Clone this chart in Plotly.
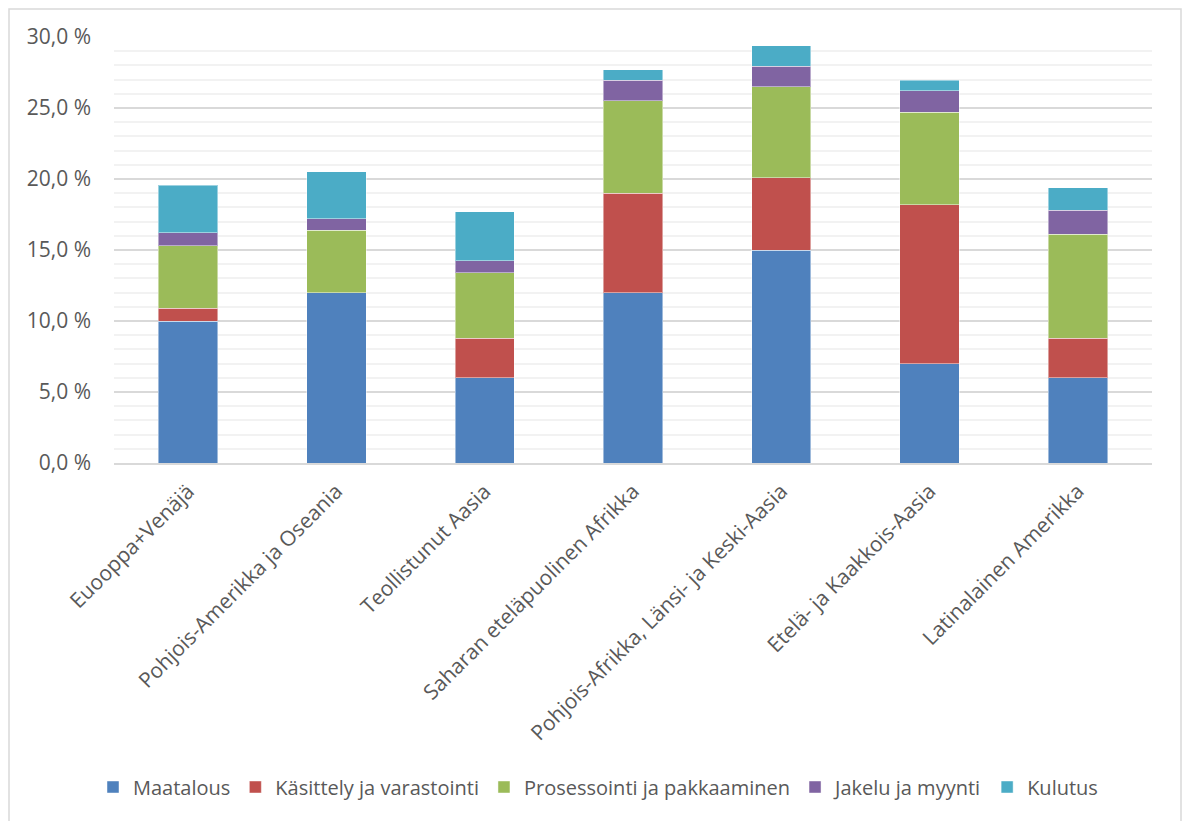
import plotly.graph_objects as go

# Regions (x-axis categories)
regions = [
    "Euooppa+Venäjä",
    "Pohjois-Amerikka ja Oseania",
    "Teollistunut Aasia",
    "Saharan eteläpuolinen Afrikka",
    "Pohjois-Afrikka, Länsi- ja Keski-Aasia",
    "Etelä- ja Kaakkois-Aasia",
    "Latinalainen Amerikka",
]

# Share of food lost/wasted at each stage of the chain (%)
maatalous = [10.0, 12.0, 6.0, 12.0, 15.0, 7.0, 6.0]
kasittely = [0.9, 0.0, 2.8, 7.0, 5.1, 11.2, 2.8]
prosessointi = [4.4, 4.4, 4.6, 6.5, 6.4, 6.5, 7.3]
jakelu = [0.9, 0.8, 0.85, 1.45, 1.45, 1.5, 1.7]
kulutus = [3.35, 3.3, 3.45, 0.75, 1.45, 0.75, 1.6]

series_names = [
    "Maatalous",
    "Käsittely ja varastointi",
    "Prosessointi ja pakkaaminen",
    "Jakelu ja myynti",
    "Kulutus",
]
series_values = [maatalous, kasittely, prosessointi, jakelu, kulutus]
series_colors = ["#4F81BD", "#C0504D", "#9BBB59", "#8064A2", "#4BACC6"]

# Y-axis ticks
y_tickvals = [0, 5, 10, 15, 20, 25, 30]
y_ticktext = ["0,0 %", "5,0 %", "10,0 %", "15,0 %", "20,0 %", "25,0 %", "30,0 %"]

FONT = "Open Sans, Lato, DejaVu Sans, sans-serif"
TEXT_COLOR = "#595959"
FS = 21
FS_LEGEND = 20

fig = go.Figure()
for name, vals, col in zip(series_names, series_values, series_colors):
    fig.add_trace(go.Bar(
        x=regions,
        y=vals,
        name=name,
        marker=dict(color=col, line=dict(color="rgba(255,255,255,0.45)", width=1)),
    ))

# Plot area geometry in pixels
W, H = 1187, 821
L, R, T, B = 114, 35, 37, 358
pw = W - L - R
ph = H - T - B


def px_x(px):
    return (px - L) / pw


def px_y(py):
    return (H - B - py) / ph


fig.update_layout(
    width=W,
    height=H,
    barmode="stack",
    bargap=0.6,
    paper_bgcolor="white",
    plot_bgcolor="white",
    margin=dict(l=L, r=R, t=T, b=B, autoexpand=False),
    font=dict(family=FONT, size=FS, color=TEXT_COLOR),
    showlegend=True,
    legend=dict(
        orientation="h",
        x=px_x(598),
        xanchor="center",
        y=px_y(787),
        yanchor="middle",
        font=dict(family=FONT, size=FS_LEGEND, color=TEXT_COLOR),
        itemwidth=30,
        traceorder="normal",
    ),
    xaxis=dict(
        tickangle=-45,
        tickfont=dict(family=FONT, size=FS, color=TEXT_COLOR),
        showline=True,
        linecolor="#D9D9D9",
        linewidth=1.5,
        showgrid=False,
        ticks="",
        ticklabelstandoff=6,
    ),
    yaxis=dict(
        range=[0, 30],
        tickvals=y_tickvals,
        ticktext=y_ticktext,
        tickfont=dict(family=FONT, size=FS, color=TEXT_COLOR),
        showgrid=True,
        gridcolor="#D9D9D9",
        gridwidth=1.5,
        zeroline=False,
        showline=False,
        ticks="",
        ticklabelstandoff=22,
        minor=dict(dtick=1, showgrid=True, gridcolor="#F2F2F2", gridwidth=1.5),
    ),
    shapes=[
        dict(
            type="rect",
            xref="paper",
            yref="paper",
            x0=px_x(9),
            x1=px_x(1181),
            y0=px_y(830),
            y1=px_y(9),
            line=dict(color="#D9D9D9", width=1.5),
            fillcolor="rgba(0,0,0,0)",
            layer="below",
        )
    ],
)

fig.write_html("out.html")
